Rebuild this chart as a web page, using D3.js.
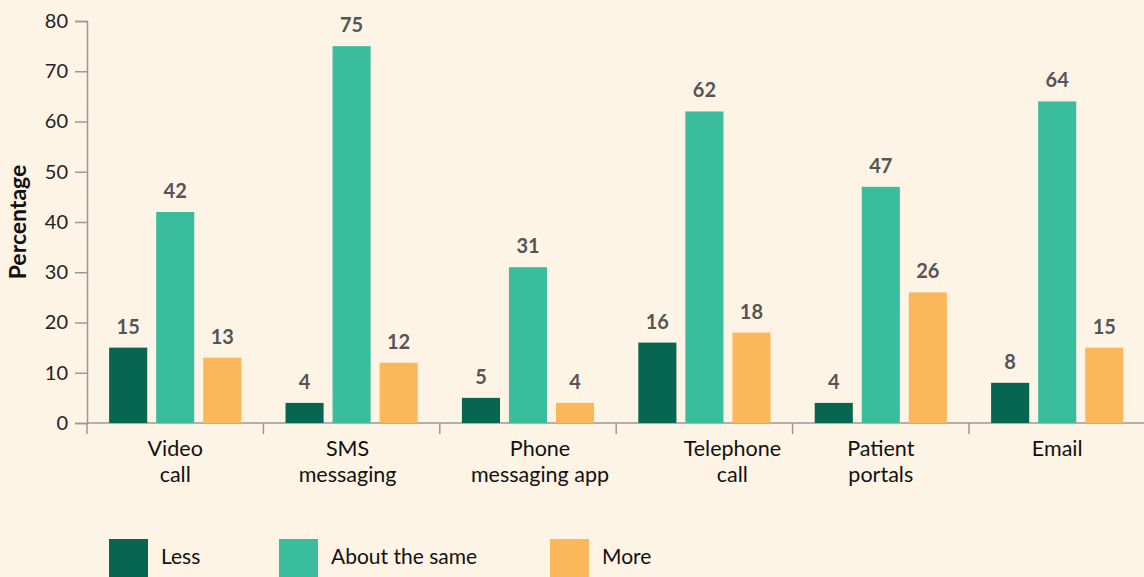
<!DOCTYPE html>
<html>
<head>
<script src="https://d3js.org/d3.v7.min.js"></script>
<style>
  body { margin: 0; background: #fef4e6; }
  text { font-family: "Source Sans Pro", Lato, "Noto Sans", sans-serif; }
</style>
</head>
<body>
<svg id="chart" width="1144" height="577"></svg>
<script>
// data
const categories = [["Video", "call"], ["SMS", "messaging"], ["Phone", "messaging app"], ["Telephone", "call"], ["Patient", "portals"], ["Email"]];
const seriesNames = ["Less", "About the same", "More"];
const less = [15, 4, 5, 16, 4, 8];
const aboutSame = [42, 75, 31, 62, 47, 64];
const more = [13, 12, 4, 18, 26, 15];
const yTicks = [0, 10, 20, 30, 40, 50, 60, 70, 80];
const colors = ["#076652", "#3abd9d", "#fbb85a"];
// the original nudges a couple of category labels sideways
const labelShift = [0, -4, 12, 28, 0, 0];

let svg = d3.select("#chart");
svg.append("rect").attr("width", 1144).attr("height", 577).attr("fill", "#fef4e6");

const plotLeft = 87, plotTop = 21, plotBottom = 423, groupW = 176.4;
const seriesVals = [less, aboutSame, more];
const rows = categories.map((c, i) => ({ cat: c.join(" "), lines: c, shift: labelShift[i], vals: seriesVals.map(s => s[i]) }));

let x0 = d3.scaleBand().domain(rows.map(d => d.cat)).range([plotLeft, plotLeft + groupW * categories.length]).padding(0);
let x1 = d3.scaleBand().domain(seriesNames).range([0, x0.bandwidth()]).paddingInner(0.19).paddingOuter(0.47);
let y = d3.scaleLinear().domain([0, 80]).range([plotBottom, plotTop]);

// y axis
let yAxis = svg.append("g").attr("transform", `translate(${plotLeft},0)`)
  .call(d3.axisLeft(y).tickValues(yTicks).tickSize(12).tickPadding(7));
yAxis.select(".domain").attr("stroke", "#999").attr("stroke-width", 1.5);
yAxis.selectAll(".tick line").attr("stroke", "#999").attr("stroke-width", 1.5);
yAxis.selectAll("text").attr("font-size", 20).attr("fill", "#222").style("font-family", "'Source Sans Pro', Lato, 'Noto Sans', sans-serif");

// x axis line and group ticks
let xg = svg.append("g");
xg.append("line").attr("x1", plotLeft).attr("x2", 1144).attr("y1", plotBottom).attr("y2", plotBottom)
  .attr("stroke", "#999").attr("stroke-width", 1.5);
xg.selectAll(".gt").data(rows).join("line")
  .attr("x1", d => x0(d.cat)).attr("x2", d => x0(d.cat))
  .attr("y1", plotBottom).attr("y2", plotBottom + 11)
  .attr("stroke", "#999").attr("stroke-width", 1.5);

let groups = svg.append("g").selectAll("g").data(rows).join("g")
  .attr("transform", d => `translate(${x0(d.cat)},0)`);

groups.selectAll("rect").data(d => d.vals.map((v, i) => ({ key: seriesNames[i], v, i }))).join("rect")
  .attr("x", d => x1(d.key)).attr("width", x1.bandwidth())
  .attr("y", d => y(d.v)).attr("height", d => y(0) - y(d.v))
  .attr("fill", d => colors[d.i]);

groups.selectAll(".val").data(d => d.vals.map((v, i) => ({ key: seriesNames[i], v }))).join("text")
  .attr("class", "val")
  .attr("x", d => x1(d.key) + x1.bandwidth() / 2)
  .attr("y", d => y(d.v) - 14)
  .attr("text-anchor", "middle")
  .attr("font-size", 20).attr("font-weight", "bold").attr("fill", "#555")
  .text(d => d.v);

groups.append("text")
  .attr("text-anchor", "middle")
  .attr("font-size", 21.5).attr("fill", "#111")
  .selectAll("tspan").data(d => d.lines.map(l => ({ l, shift: d.shift }))).join("tspan")
  .attr("x", d => x0.bandwidth() / 2 + d.shift)
  .attr("y", (d, i) => 456 + i * 26)
  .text(d => d.l);

// y label
svg.append("text")
  .attr("transform", "translate(26,222) rotate(-90)")
  .attr("text-anchor", "middle")
  .attr("font-size", 23).attr("font-weight", "bold").attr("fill", "#111")
  .text("Percentage");

// legend
const legendX = [109, 279, 550];
let legend = svg.append("g").selectAll("g").data(seriesNames).join("g")
  .attr("transform", (d, i) => `translate(${legendX[i]},539)`);
legend.append("rect").attr("width", 39).attr("height", 45).attr("fill", (d, i) => colors[i]);
legend.append("text").attr("x", 52).attr("y", 25).attr("font-size", 21).attr("fill", "#111").text(d => d);
</script>
</body>
</html>
